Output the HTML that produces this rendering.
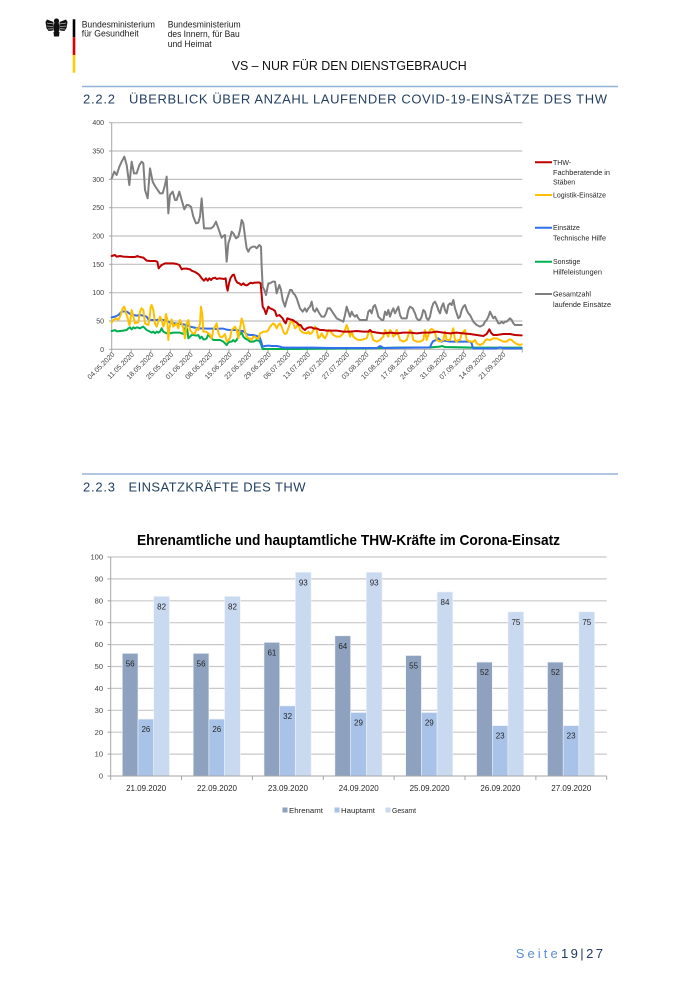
<!DOCTYPE html>
<html><head><meta charset="utf-8"><style>
html,body{margin:0;padding:0;background:#fff;}
svg{display:block;}
text{font-family:"Liberation Sans",sans-serif;}
</style></head><body>
<svg width="700" height="990" viewBox="0 0 700 990" xmlns="http://www.w3.org/2000/svg">
<rect width="700" height="990" fill="#fff"/>

<!-- Eagle -->
<g fill="#111">
<circle cx="56.5" cy="21" r="2.6"/>
<ellipse cx="56.5" cy="27.5" rx="3.2" ry="6"/>
<path d="M53.5,22 L47,19.5 L45.5,22 L46,25 L46.5,28 L48.5,31 L53,30.5 Z"/>
<path d="M59.5,22 L66,19.5 L67.5,22 L67,25 L66.5,28 L64.5,31 L60,30.5 Z"/>
<path d="M53.5,32 L59.5,32 L59,36.5 L54,36.5 Z"/>
</g>
<g stroke="#fff" stroke-width="0.6">
<line x1="47" y1="23" x2="53" y2="24"/><line x1="47" y1="26" x2="53" y2="26.5"/><line x1="48" y1="29" x2="53" y2="28.8"/>
<line x1="66" y1="23" x2="60" y2="24"/><line x1="66" y1="26" x2="60" y2="26.5"/><line x1="65" y1="29" x2="60" y2="28.8"/>
</g>
<!-- flag bar -->
<rect x="72.7" y="19.3" width="2.6" height="18" fill="#000"/>
<rect x="72.7" y="37.3" width="2.6" height="17.7" fill="#dd0000"/>
<rect x="72.7" y="55" width="2.6" height="17.7" fill="#ffce00"/>

<!-- ministry text -->
<g font-size="9.5" fill="#1a1a1a">
<text x="81.7" y="27.3" textLength="73.3" lengthAdjust="spacingAndGlyphs">Bundesministerium</text>
<text x="81.7" y="36.5" textLength="57" lengthAdjust="spacingAndGlyphs">für Gesundheit</text>
<text x="167.7" y="27.3" textLength="73" lengthAdjust="spacingAndGlyphs">Bundesministerium</text>
<text x="167.7" y="37" textLength="72" lengthAdjust="spacingAndGlyphs">des Innern, für Bau</text>
<text x="167.7" y="47" textLength="44" lengthAdjust="spacingAndGlyphs">und Heimat</text>
</g>

<text x="231.7" y="70" font-size="13" fill="#111" textLength="235" lengthAdjust="spacingAndGlyphs">VS – NUR FÜR DEN DIENSTGEBRAUCH</text>

<!-- heading 1 -->
<line x1="82" y1="86.5" x2="618" y2="86.5" stroke="#95b3d7" stroke-width="1.5"/>
<text x="83" y="103.5" font-size="13" fill="#243f60" textLength="32" lengthAdjust="spacing">2.2.2</text>
<text x="129" y="103.5" font-size="13" fill="#243f60" textLength="478" lengthAdjust="spacing">ÜBERBLICK ÜBER ANZAHL LAUFENDER COVID-19-EINSÄTZE DES THW</text>

<!-- LINE CHART -->
<g stroke="#c0c0c0" stroke-width="1.2">
<line x1="111.7" y1="122.7" x2="522.3" y2="122.7"/>
<line x1="111.7" y1="151.0" x2="522.3" y2="151.0"/>
<line x1="111.7" y1="179.4" x2="522.3" y2="179.4"/>
<line x1="111.7" y1="207.7" x2="522.3" y2="207.7"/>
<line x1="111.7" y1="236.0" x2="522.3" y2="236.0"/>
<line x1="111.7" y1="264.3" x2="522.3" y2="264.3"/>
<line x1="111.7" y1="292.7" x2="522.3" y2="292.7"/>
<line x1="111.7" y1="321.0" x2="522.3" y2="321.0"/>
</g>
<g stroke="#a6a6a6" stroke-width="1">
<line x1="111.7" y1="122.7" x2="111.7" y2="349.3"/>
<line x1="111.7" y1="349.3" x2="522.3" y2="349.3"/>
<line x1="109" y1="122.7" x2="111.7" y2="122.7"/><line x1="109" y1="151" x2="111.7" y2="151"/>
<line x1="109" y1="179.4" x2="111.7" y2="179.4"/><line x1="109" y1="207.7" x2="111.7" y2="207.7"/>
<line x1="109" y1="236" x2="111.7" y2="236"/><line x1="109" y1="264.3" x2="111.7" y2="264.3"/>
<line x1="109" y1="292.7" x2="111.7" y2="292.7"/><line x1="109" y1="321" x2="111.7" y2="321"/>
<line x1="109" y1="349.3" x2="111.7" y2="349.3"/>
</g>
<g font-size="7" fill="#404040" text-anchor="end">
<text x="104" y="125.2">400</text>
<text x="104" y="153.5">350</text>
<text x="104" y="181.9">300</text>
<text x="104" y="210.2">250</text>
<text x="104" y="238.5">200</text>
<text x="104" y="266.8">150</text>
<text x="104" y="295.2">100</text>
<text x="104" y="323.5">50</text>
<text x="104" y="351.8">0</text>
</g>
<!-- x ticks -->
<g stroke="#a6a6a6" stroke-width="1">
<line x1="111.7" y1="349.3" x2="111.7" y2="352.5"/><line x1="131.25" y1="349.3" x2="131.25" y2="352.5"/>
<line x1="150.8" y1="349.3" x2="150.8" y2="352.5"/><line x1="170.35" y1="349.3" x2="170.35" y2="352.5"/>
<line x1="189.9" y1="349.3" x2="189.9" y2="352.5"/><line x1="209.45" y1="349.3" x2="209.45" y2="352.5"/>
<line x1="229" y1="349.3" x2="229" y2="352.5"/><line x1="248.55" y1="349.3" x2="248.55" y2="352.5"/>
<line x1="268.1" y1="349.3" x2="268.1" y2="352.5"/><line x1="287.65" y1="349.3" x2="287.65" y2="352.5"/>
<line x1="307.2" y1="349.3" x2="307.2" y2="352.5"/><line x1="326.75" y1="349.3" x2="326.75" y2="352.5"/>
<line x1="346.3" y1="349.3" x2="346.3" y2="352.5"/><line x1="365.85" y1="349.3" x2="365.85" y2="352.5"/>
<line x1="385.4" y1="349.3" x2="385.4" y2="352.5"/><line x1="404.95" y1="349.3" x2="404.95" y2="352.5"/>
<line x1="424.5" y1="349.3" x2="424.5" y2="352.5"/><line x1="444.05" y1="349.3" x2="444.05" y2="352.5"/>
<line x1="463.6" y1="349.3" x2="463.6" y2="352.5"/><line x1="483.15" y1="349.3" x2="483.15" y2="352.5"/>
<line x1="502.7" y1="349.3" x2="502.7" y2="352.5"/><line x1="522.3" y1="349.3" x2="522.3" y2="352.5"/>
</g>
<g font-size="7" fill="#404040" text-anchor="end">
<text transform="translate(115,355) rotate(-45)">04.05.2020</text>
<text transform="translate(134.55,355) rotate(-45)">11.05.2020</text>
<text transform="translate(154.1,355) rotate(-45)">18.05.2020</text>
<text transform="translate(173.65,355) rotate(-45)">25.05.2020</text>
<text transform="translate(193.2,355) rotate(-45)">01.06.2020</text>
<text transform="translate(212.75,355) rotate(-45)">08.06.2020</text>
<text transform="translate(232.3,355) rotate(-45)">15.06.2020</text>
<text transform="translate(251.85,355) rotate(-45)">22.06.2020</text>
<text transform="translate(271.4,355) rotate(-45)">29.06.2020</text>
<text transform="translate(290.95,355) rotate(-45)">06.07.2020</text>
<text transform="translate(310.5,355) rotate(-45)">13.07.2020</text>
<text transform="translate(330.05,355) rotate(-45)">20.07.2020</text>
<text transform="translate(349.6,355) rotate(-45)">27.07.2020</text>
<text transform="translate(369.15,355) rotate(-45)">03.08.2020</text>
<text transform="translate(388.7,355) rotate(-45)">10.08.2020</text>
<text transform="translate(408.25,355) rotate(-45)">17.08.2020</text>
<text transform="translate(427.8,355) rotate(-45)">24.08.2020</text>
<text transform="translate(447.35,355) rotate(-45)">31.08.2020</text>
<text transform="translate(466.9,355) rotate(-45)">07.09.2020</text>
<text transform="translate(486.45,355) rotate(-45)">14.09.2020</text>
<text transform="translate(506,355) rotate(-45)">21.09.2020</text>
</g>

<!-- series: left part (zoom coords) -->
<g transform="translate(80 110) scale(0.333333)" fill="none" stroke-linejoin="round" stroke-linecap="round">
<polyline vector-effect="non-scaling-stroke" stroke="#00b050" stroke-width="2" points="95,663 100,662 105,660 110,664 120,663 130,662 140,660 145,655 150,652 155,658 160,652 165,655 170,652 175,653 180,655 185,652 190,650 195,655 200,660 210,665 215,668 220,665 225,670 230,665 235,668 240,665 245,655 250,665 260,670 270,670 280,668 290,668 300,668 310,672 318,648 322,660 325,685 330,680 335,675 340,675 350,677 355,675 360,685 365,680 370,688 375,688 380,685 385,673 390,680 395,685 400,690 410,690 420,690 430,695 440,705 445,698 450,695 455,695 460,690 465,695 470,690 475,680 480,672 485,668 490,680 495,685 500,688 505,690 510,695 520,695 530,690 538,693 542,700 546,712 548,717 650,717 750,716"/>
<polyline vector-effect="non-scaling-stroke" stroke="#2f6ff0" stroke-width="2" points="95,622 105,620 115,615 125,605 135,604 140,605 145,608 150,612 160,615 170,617 180,615 190,617 200,620 205,628 210,630 220,630 230,630 240,628 250,630 260,632 270,638 280,640 290,640 300,642 310,643 320,645 330,650 340,652 350,654 360,655 370,655 380,656 390,656 400,656 410,657 420,656 430,656 440,659 450,660 460,660 470,660 480,663 490,663 500,673 510,675 520,675 530,678 538,680 542,690 545,700 548,710 555,708 565,707 575,708 590,708 600,710 605,712 615,713 630,713 650,713 700,713 750,714"/>
<polyline vector-effect="non-scaling-stroke" stroke="#ffc000" stroke-width="2" points="95,638 100,630 108,625 115,630 122,615 128,595 133,590 138,610 142,620 148,645 150,640 155,600 160,620 165,640 170,638 175,637 180,605 185,595 190,600 195,640 200,643 205,645 208,630 212,590 215,585 220,600 225,640 230,650 235,635 240,620 245,630 250,650 255,635 258,612 262,630 265,690 268,655 272,640 275,628 280,650 285,645 290,640 295,655 300,630 305,640 310,655 315,685 320,640 325,630 330,660 338,670 345,670 350,655 355,660 360,640 363,590 367,615 370,665 378,665 385,670 390,675 395,685 400,660 405,650 410,640 415,668 420,680 425,682 430,678 435,672 440,695 445,690 450,685 455,660 460,655 465,650 470,660 475,685 480,655 485,625 490,640 495,665 500,680 505,685 510,685 515,690 520,680 525,680 530,685 535,687 540,670 545,668 550,665 560,665 565,660 570,650 575,645 580,640 585,645 590,655 595,645 600,640 605,650 610,665 615,672 620,670 625,655 630,640 635,632 640,640 645,655 650,650 655,640 660,660 665,665 670,668 680,670 685,665 690,672 695,670 700,660 705,650 710,660 715,685 720,680 725,670 730,680 735,685 740,675 745,660 750,662"/>
<polyline vector-effect="non-scaling-stroke" stroke="#c00000" stroke-width="2" points="95,438 105,435 110,440 120,438 130,440 150,441 165,441 172,438 180,441 190,443 200,452 210,453 225,453 232,455 236,475 240,470 245,465 255,460 265,460 280,460 290,462 298,465 305,478 310,476 320,476 330,478 335,482 345,486 352,490 358,495 365,505 372,512 378,505 383,512 388,505 393,510 398,505 405,503 410,507 418,505 425,506 432,507 437,505 440,530 443,542 447,520 452,503 458,495 462,494 467,510 472,518 478,520 484,525 490,520 495,525 500,526 505,523 512,518 518,520 523,518 530,518 537,517 542,520 545,555 548,590 553,598 558,612 565,590 570,595 578,598 585,603 590,618 598,615 603,620 608,625 613,635 617,640 622,625 630,628 638,630 645,635 650,638 657,645 662,645 668,655 675,660 680,655 688,652 695,652 702,656 710,655 720,660 730,660 740,662 750,662"/>
<polyline vector-effect="non-scaling-stroke" stroke="#7f7f7f" stroke-width="2" points="95,205 103,185 110,195 118,170 125,155 133,140 140,165 148,225 155,155 162,190 170,190 178,165 185,155 190,160 195,240 203,265 210,175 218,215 225,228 233,240 240,250 248,250 255,225 260,200 265,310 270,255 278,245 285,270 290,270 298,245 305,270 313,298 320,285 325,285 333,290 340,320 348,340 355,338 360,320 365,265 372,355 378,355 385,355 393,355 400,350 408,335 415,355 420,370 425,383 430,378 435,375 440,455 445,400 450,385 455,365 460,370 468,385 475,380 480,360 485,330 490,340 495,380 500,415 505,425 510,415 518,410 525,410 530,415 538,405 543,410 545,470 548,530 553,540 558,555 565,520 570,520 578,515 585,515 590,550 598,525 603,540 608,570 615,590 620,570 625,555 630,540 635,540 640,550 645,555 650,565 655,580 660,595 668,605 675,595 680,605 685,595 690,590 695,575 700,600 705,605 710,595 718,610 725,620 733,620 738,610 743,595 750,595"/>
</g>
<!-- series: right part -->
<g transform="translate(330 110) scale(0.333333)" fill="none" stroke-linejoin="round" stroke-linecap="round">
<polyline vector-effect="non-scaling-stroke" stroke="#00b050" stroke-width="2" points="0,716 100,715 200,713 300,712 330,710 335,708 345,711 400,712 430,713 575,713"/>
<polyline vector-effect="non-scaling-stroke" stroke="#2f6ff0" stroke-width="2" points="0,714 140,714 145,712 150,708 155,710 160,714 300,712 305,700 310,693 320,690 325,685 330,690 335,695 340,692 350,693 360,695 380,695 400,695 420,695 425,700 428,712 430,715 500,715 510,712 520,715 575,715"/>
<polyline vector-effect="non-scaling-stroke" stroke="#ffc000" stroke-width="2" points="0,662 10,675 20,680 30,680 40,670 45,660 50,645 55,660 60,680 65,665 70,680 80,688 90,690 100,688 110,685 115,670 120,660 125,675 130,690 140,695 150,690 160,680 165,660 170,670 175,680 180,660 185,665 190,680 195,675 200,660 205,675 210,690 220,695 230,690 235,675 240,660 245,665 250,690 260,695 270,695 280,690 285,660 290,690 295,675 300,660 305,657 310,660 315,665 320,690 330,695 340,690 345,665 350,690 360,690 365,670 370,655 375,690 380,695 385,690 390,690 395,670 400,665 405,660 410,690 420,695 430,695 435,690 440,700 450,705 460,700 465,692 470,688 480,690 490,685 500,685 510,690 520,695 530,695 535,690 540,688 545,690 550,695 560,702 570,705 575,703"/>
<polyline vector-effect="non-scaling-stroke" stroke="#c00000" stroke-width="2" points="0,662 20,662 40,665 60,665 80,663 100,665 115,665 120,660 125,665 140,668 160,670 180,668 200,670 220,668 240,668 260,670 280,668 300,668 320,665 340,668 360,670 380,668 400,670 420,672 440,675 460,678 470,672 478,658 483,668 490,675 500,675 520,672 540,672 555,675 575,676"/>
<polyline vector-effect="non-scaling-stroke" stroke="#7f7f7f" stroke-width="2" points="0,595 10,610 20,625 30,630 40,635 45,615 50,590 55,605 60,620 65,605 70,615 75,620 80,615 85,625 90,630 100,630 110,630 115,605 120,600 125,610 130,590 135,585 140,600 145,620 150,625 155,630 160,630 165,605 170,615 175,600 180,620 185,605 190,595 195,610 200,600 205,590 210,615 215,625 220,625 230,625 235,600 240,590 248,595 255,610 260,625 265,630 270,630 275,620 280,600 285,605 290,625 295,630 300,620 305,595 310,580 315,575 320,585 325,600 330,610 335,590 340,580 345,600 350,610 355,585 360,580 365,585 370,570 375,595 380,610 385,625 390,620 395,600 400,590 405,585 410,600 415,610 420,615 425,625 430,635 440,645 450,650 460,645 465,635 470,630 475,620 480,605 485,615 490,625 495,620 500,630 505,640 510,640 515,635 520,640 525,635 530,635 535,630 540,625 545,630 550,640 555,645 560,645 570,645 575,645"/>
</g>

<!-- line legend -->
<g stroke-width="2">
<line x1="535" y1="162.3" x2="552" y2="162.3" stroke="#c00000"/>
<line x1="535" y1="195" x2="552" y2="195" stroke="#ffc000"/>
<line x1="535" y1="227.7" x2="552" y2="227.7" stroke="#2f6ff0"/>
<line x1="535" y1="261.7" x2="552" y2="261.7" stroke="#00b050"/>
<line x1="535" y1="294" x2="552" y2="294" stroke="#7f7f7f"/>
</g>
<g font-size="7" fill="#262626">
<text x="553" y="164.8">THW-</text>
<text x="553" y="174.8" textLength="57" lengthAdjust="spacingAndGlyphs">Fachberatende in</text>
<text x="553" y="184.5">Stäben</text>
<text x="553" y="197.5" textLength="53" lengthAdjust="spacingAndGlyphs">Logistik-Einsätze</text>
<text x="553" y="230.2">Einsätze</text>
<text x="553" y="240.5" textLength="53" lengthAdjust="spacingAndGlyphs">Technische Hilfe</text>
<text x="553" y="264.2">Sonstige</text>
<text x="553" y="274.5" textLength="49" lengthAdjust="spacingAndGlyphs">Hilfeleistungen</text>
<text x="553" y="296.5" textLength="38" lengthAdjust="spacingAndGlyphs">Gesamtzahl</text>
<text x="553" y="307" textLength="58" lengthAdjust="spacingAndGlyphs">laufende Einsätze</text>
</g>

<!-- heading 2 -->
<line x1="82" y1="474" x2="618" y2="474" stroke="#95b3d7" stroke-width="1.5"/>
<text x="83" y="491.5" font-size="13" fill="#243f60" textLength="32" lengthAdjust="spacing">2.2.3</text>
<text x="128.5" y="491.5" font-size="13" fill="#243f60" textLength="177" lengthAdjust="spacing">EINSATZKRÄFTE DES THW</text>

<!-- BAR CHART -->
<text x="348.5" y="545" font-size="15" font-weight="bold" fill="#000" text-anchor="middle" textLength="423" lengthAdjust="spacingAndGlyphs">Ehrenamtliche und hauptamtliche THW-Kräfte im Corona-Einsatz</text>
<g stroke="#c8c8c8" stroke-width="1.2">
<line x1="110.7" y1="557" x2="606.7" y2="557"/>
<line x1="110.7" y1="578.9" x2="606.7" y2="578.9"/>
<line x1="110.7" y1="600.8" x2="606.7" y2="600.8"/>
<line x1="110.7" y1="622.7" x2="606.7" y2="622.7"/>
<line x1="110.7" y1="644.6" x2="606.7" y2="644.6"/>
<line x1="110.7" y1="666.5" x2="606.7" y2="666.5"/>
<line x1="110.7" y1="688.4" x2="606.7" y2="688.4"/>
<line x1="110.7" y1="710.3" x2="606.7" y2="710.3"/>
<line x1="110.7" y1="732.2" x2="606.7" y2="732.2"/>
<line x1="110.7" y1="754.1" x2="606.7" y2="754.1"/>
</g>
<g font-size="7.5" fill="#404040" text-anchor="end">
<text x="103" y="559.6">100</text>
<text x="103" y="581.5">90</text>
<text x="103" y="603.4">80</text>
<text x="103" y="625.3">70</text>
<text x="103" y="647.2">60</text>
<text x="103" y="669.1">50</text>
<text x="103" y="691">40</text>
<text x="103" y="712.9">30</text>
<text x="103" y="734.8">20</text>
<text x="103" y="756.7">10</text>
<text x="103" y="778.6">0</text>
</g>

<!-- bars -->
<g stroke="#eef2f8" stroke-width="0.6">
<rect x="122.3" y="653.4" width="15.7" height="122.6" fill="#8ea2c0"/>
<rect x="138.0" y="719.1" width="15.7" height="56.9" fill="#a9c3e8"/>
<rect x="153.7" y="596.4" width="15.7" height="179.6" fill="#c9d9f0"/>

<rect x="193.2" y="653.4" width="15.7" height="122.6" fill="#8ea2c0"/>
<rect x="208.9" y="719.1" width="15.7" height="56.9" fill="#a9c3e8"/>
<rect x="224.6" y="596.4" width="15.7" height="179.6" fill="#c9d9f0"/>

<rect x="264.0" y="642.4" width="15.7" height="133.6" fill="#8ea2c0"/>
<rect x="279.7" y="705.9" width="15.7" height="70.1" fill="#a9c3e8"/>
<rect x="295.4" y="572.3" width="15.7" height="203.7" fill="#c9d9f0"/>

<rect x="334.9" y="635.8" width="15.7" height="140.2" fill="#8ea2c0"/>
<rect x="350.6" y="712.5" width="15.7" height="63.5" fill="#a9c3e8"/>
<rect x="366.3" y="572.3" width="15.7" height="203.7" fill="#c9d9f0"/>

<rect x="405.7" y="655.5" width="15.7" height="120.5" fill="#8ea2c0"/>
<rect x="421.4" y="712.5" width="15.7" height="63.5" fill="#a9c3e8"/>
<rect x="437.1" y="592.0" width="15.7" height="184.0" fill="#c9d9f0"/>

<rect x="476.6" y="662.1" width="15.7" height="113.9" fill="#8ea2c0"/>
<rect x="492.3" y="725.6" width="15.7" height="50.4" fill="#a9c3e8"/>
<rect x="508.0" y="611.8" width="15.7" height="164.2" fill="#c9d9f0"/>

<rect x="547.5" y="662.1" width="15.7" height="113.9" fill="#8ea2c0"/>
<rect x="563.2" y="725.6" width="15.7" height="50.4" fill="#a9c3e8"/>
<rect x="578.9" y="611.8" width="15.7" height="164.2" fill="#c9d9f0"/>
</g>
<g font-size="8" fill="#262626" text-anchor="middle">
<text x="130.2" y="666.4">56</text><text x="145.9" y="732.1">26</text><text x="161.6" y="609.4">82</text>
<text x="201.1" y="666.4">56</text><text x="216.8" y="732.1">26</text><text x="232.5" y="609.4">82</text>
<text x="271.9" y="655.4">61</text><text x="287.6" y="718.9">32</text><text x="303.3" y="585.3">93</text>
<text x="342.8" y="648.8">64</text><text x="358.5" y="725.5">29</text><text x="374.2" y="585.3">93</text>
<text x="413.6" y="668.5">55</text><text x="429.3" y="725.5">29</text><text x="445.0" y="605.0">84</text>
<text x="484.5" y="675.1">52</text><text x="500.2" y="738.6">23</text><text x="515.9" y="624.8">75</text>
<text x="555.4" y="675.1">52</text><text x="571.1" y="738.6">23</text><text x="586.8" y="624.8">75</text>
</g>
<g stroke="#a6a6a6" stroke-width="1">
<line x1="110.7" y1="557" x2="110.7" y2="776"/>
<line x1="110.7" y1="776" x2="606.7" y2="776"/>
<line x1="107.5" y1="557" x2="110.7" y2="557"/><line x1="107.5" y1="578.9" x2="110.7" y2="578.9"/>
<line x1="107.5" y1="600.8" x2="110.7" y2="600.8"/><line x1="107.5" y1="622.7" x2="110.7" y2="622.7"/>
<line x1="107.5" y1="644.6" x2="110.7" y2="644.6"/><line x1="107.5" y1="666.5" x2="110.7" y2="666.5"/>
<line x1="107.5" y1="688.4" x2="110.7" y2="688.4"/><line x1="107.5" y1="710.3" x2="110.7" y2="710.3"/>
<line x1="107.5" y1="732.2" x2="110.7" y2="732.2"/><line x1="107.5" y1="754.1" x2="110.7" y2="754.1"/>
<line x1="107.5" y1="776" x2="110.7" y2="776"/>
<line x1="110.7" y1="776" x2="110.7" y2="780"/><line x1="181.56" y1="776" x2="181.56" y2="780"/>
<line x1="252.4" y1="776" x2="252.4" y2="780"/><line x1="323.3" y1="776" x2="323.3" y2="780"/>
<line x1="394.1" y1="776" x2="394.1" y2="780"/><line x1="465" y1="776" x2="465" y2="780"/>
<line x1="535.9" y1="776" x2="535.9" y2="780"/><line x1="606.7" y1="776" x2="606.7" y2="780"/>
</g>
<g font-size="8" fill="#262626" text-anchor="middle">
<text x="146.1" y="791">21.09.2020</text>
<text x="217" y="791">22.09.2020</text>
<text x="287.9" y="791">23.09.2020</text>
<text x="358.7" y="791">24.09.2020</text>
<text x="429.6" y="791">25.09.2020</text>
<text x="500.4" y="791">26.09.2020</text>
<text x="571.3" y="791">27.09.2020</text>
</g>
<!-- bar legend -->
<rect x="282.5" y="807.5" width="5" height="5" fill="#8ea2c0"/>
<rect x="334.5" y="807.5" width="5" height="5" fill="#a9c3e8"/>
<rect x="385.5" y="807.5" width="5" height="5" fill="#c9d9f0"/>
<g font-size="7.5" fill="#262626">
<text x="289" y="813" textLength="34" lengthAdjust="spacingAndGlyphs">Ehrenamt</text>
<text x="341" y="813" textLength="34" lengthAdjust="spacingAndGlyphs">Hauptamt</text>
<text x="392" y="813" textLength="24" lengthAdjust="spacingAndGlyphs">Gesamt</text>
</g>

<!-- footer -->
<text x="515.7" y="958" font-size="13" fill="#5b8ed6" textLength="42" lengthAdjust="spacing">Seite</text>
<text x="561" y="958" font-size="13" fill="#1f3864" textLength="42" lengthAdjust="spacing">19|27</text>
</svg>
</body></html>
